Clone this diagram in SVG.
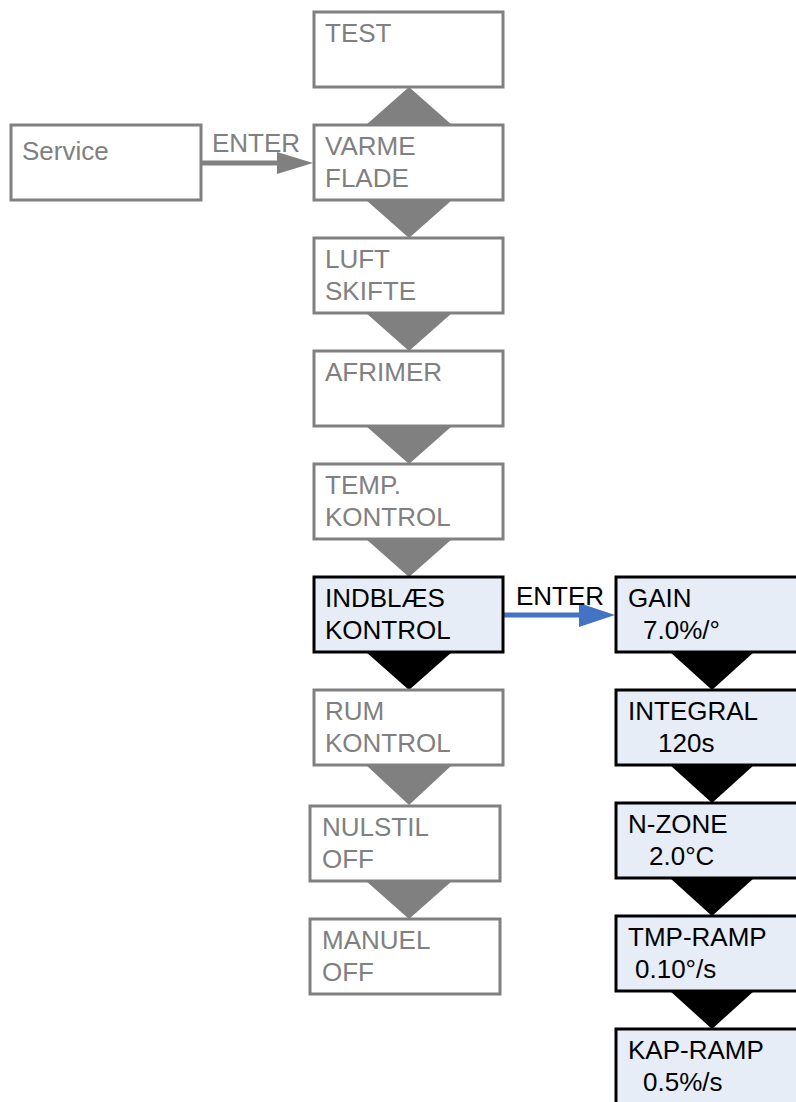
<svg xmlns="http://www.w3.org/2000/svg" width="796" height="1102" viewBox="0 0 796 1102">
<defs>
<style>
.g{fill:#ffffff;stroke:#808080;stroke-width:3}
.b{fill:#E7EDF7;stroke:#000000;stroke-width:3}
.tg{font-family:"Liberation Sans",Arial,sans-serif;font-size:26px;fill:#808080}
.tb{font-family:"Liberation Sans",Arial,sans-serif;font-size:26px;fill:#000000}
.cg{fill:#808080}
.cb{fill:#000000}
</style>
</defs>
<rect width="796" height="1102" fill="#ffffff"/>
<g id="connectors">
<polygon class="cg" points="409,87 452,125 366,125"/>
<polygon class="cg" points="366,200 452,200 409,238"/>
<polygon class="cg" points="366,313 452,313 409,351"/>
<polygon class="cg" points="366,426 452,426 409,464"/>
<polygon class="cg" points="366,539 452,539 409,577"/>
<polygon class="cb" points="366,652 452,652 409,690"/>
<polygon class="cg" points="366,765 452,765 409,805"/>
<polygon class="cg" points="366,881 452,881 409,919"/>
<polygon class="cb" points="670,652 754,652 712,690"/>
<polygon class="cb" points="670,765 754,765 712,803"/>
<polygon class="cb" points="670,878 754,878 712,916"/>
<polygon class="cb" points="670,991 754,991 712,1029"/>
<line x1="200" y1="163" x2="280" y2="163" stroke="#808080" stroke-width="5" stroke-linecap="round"/>
<polygon class="cg" points="277,152 313,163 277,174"/>
<text class="tg" x="212" y="152">ENTER</text>
<line x1="503" y1="615" x2="582" y2="615" stroke="#4472C4" stroke-width="5" stroke-linecap="round"/>
<polygon fill="#4472C4" points="579,603 615,615 579,627"/>
<text class="tb" x="516" y="605">ENTER</text>
</g>
<g id="service"><rect class="g" x="11" y="125" width="190" height="75"/><text class="tg" x="22" y="160">Service</text></g>
<g id="test"><rect class="g" x="314" y="12" width="189" height="75"/><text class="tg" x="325" y="42">TEST</text></g>
<g id="varme"><rect class="g" x="314" y="125" width="189" height="75"/><text class="tg" x="325" y="155">VARME</text><text class="tg" x="325" y="187">FLADE</text></g>
<g id="luft"><rect class="g" x="314" y="238" width="189" height="75"/><text class="tg" x="325" y="268">LUFT</text><text class="tg" x="325" y="300">SKIFTE</text></g>
<g id="afrimer"><rect class="g" x="314" y="351" width="189" height="75"/><text class="tg" x="325" y="381">AFRIMER</text></g>
<g id="temp"><rect class="g" x="314" y="464" width="189" height="75"/><text class="tg" x="325" y="494">TEMP.</text><text class="tg" x="325" y="526">KONTROL</text></g>
<g id="indblaes"><rect class="b" x="314" y="577" width="189" height="75"/><text class="tb" x="325" y="607">INDBLÆS</text><text class="tb" x="325" y="639">KONTROL</text></g>
<g id="rum"><rect class="g" x="314" y="690" width="189" height="75"/><text class="tg" x="325" y="720">RUM</text><text class="tg" x="325" y="752">KONTROL</text></g>
<g id="nulstil"><rect class="g" x="310" y="806" width="190" height="75"/><text class="tg" x="322" y="836">NULSTIL</text><text class="tg" x="322" y="868">OFF</text></g>
<g id="manuel"><rect class="g" x="310" y="919" width="190" height="75"/><text class="tg" x="322" y="949">MANUEL</text><text class="tg" x="322" y="981">OFF</text></g>
<g id="gain"><rect class="b" x="616" y="577" width="192" height="75"/><text class="tb" x="628" y="607">GAIN</text><text class="tb" x="643" y="639">7.0%/°</text></g>
<g id="integral"><rect class="b" x="616" y="690" width="192" height="75"/><text class="tb" x="628" y="720">INTEGRAL</text><text class="tb" x="658" y="752">120s</text></g>
<g id="nzone"><rect class="b" x="616" y="803" width="192" height="75"/><text class="tb" x="628" y="833">N-ZONE</text><text class="tb" x="649" y="865">2.0°C</text></g>
<g id="tmpramp"><rect class="b" x="616" y="916" width="192" height="75"/><text class="tb" x="628" y="946">TMP-RAMP</text><text class="tb" x="635" y="978">0.10°/s</text></g>
<g id="kapramp"><rect class="b" x="616" y="1029" width="192" height="80"/><text class="tb" x="628" y="1059">KAP-RAMP</text><text class="tb" x="643" y="1091">0.5%/s</text></g>
</svg>
